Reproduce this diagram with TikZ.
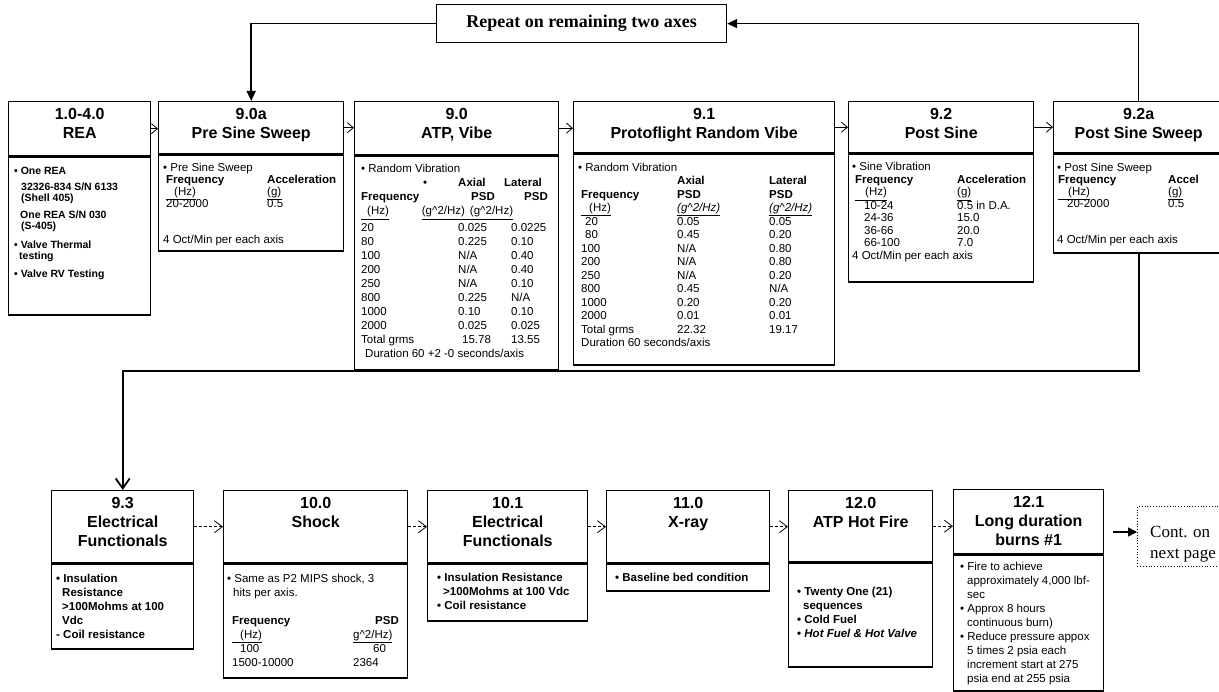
\documentclass[tikz,border=0pt]{standalone}
\usepackage{fontspec}
\setmainfont{Liberation Sans}
\newfontfamily\serifr{Liberation Serif}
\usetikzlibrary{arrows.meta,calc}
\setlength\tabcolsep{0pt}
\newcommand\hzu[1]{\underline{\hspace*{#1pt}(Hz)}}
\newcommand\gsq{(g\textasciicircum 2/Hz)}
\newcommand\procbox[7]{%
  \node[hdr, minimum width=#4pt, minimum height=#5pt] (#1h) at (#2,#3) {};
  \node[bdy, minimum width=#4pt, minimum height=#6pt] (#1b) at (#1h.south west) {};
  \node[htext] (#1t) at ([yshift=-7.5pt]#1h.north) {#7};
}
\tikzset{
  boxline/.style={draw, line width=1.4pt},
  hdr/.style={boxline, anchor=north west, inner sep=0pt},
  bdy/.style={boxline, anchor=north west, inner sep=0pt},
  htext/.style={anchor=north, align=center, inner sep=0pt, font=\fontsize{16}{19}\selectfont\bfseries},
  btext/.style={anchor=north west, inner sep=0pt},
  tflow/.style={line width=0.8pt, -{Straight Barb[length=6pt,width=10pt]}},
  bflow/.style={line width=0.8pt, densely dashed, -{Straight Barb[length=8pt,width=12pt]}},
  loopln/.style={line width=1.8pt},
  repln/.style={line width=1.5pt},
}
\begin{document}
\begin{tikzpicture}[x=1pt,y=-1pt]
\useasboundingbox (0,0) rectangle (1219,692);
\fill[white] (0,0) rectangle (1219,692);
\clip (0,0) rectangle (1219,692);

% ---------- top row ----------
\procbox{rea}{8}{101}{142}{54}{158}{1.0-4.0\\REA}
\procbox{psa}{158}{101}{185}{52}{96}{9.0a\\Pre Sine Sweep}
\procbox{atp}{354}{101}{204}{53}{214}{9.0\\ATP, Vibe}
\procbox{pfr}{573}{101}{261}{51}{211}{9.1\\Protoflight Random Vibe}
\procbox{pos}{848}{101}{185}{51}{128}{9.2\\Post Sine}
\procbox{pss}{1053}{101}{170}{51}{99}{9.2a\\Post Sine Sweep}

% REA body
\node[btext, font=\fontsize{10.5}{11}\selectfont\bfseries] (reax) at (14,167) {%
\begin{tabular}{@{}l@{}}
\textbullet\ One REA\\[5pt]
\hspace*{7pt}32326-834 S/N 6133\\
\hspace*{7pt}(Shell 405)\\[6pt]
\hspace*{6pt}One REA S/N 030\\
\hspace*{7pt}(S-405)\\[8pt]
\textbullet\ Valve Thermal\\
\hspace*{5pt}testing\\[7pt]
\textbullet\ Valve RV Testing
\end{tabular}};

% 9.0a body
\node[btext, font=\fontsize{11.5}{11.5}\selectfont] (psax) at (163,163) {%
\begin{tabular}{@{}p{104pt}@{}l@{}}
\multicolumn{2}{@{}l@{}}{\textbullet\ Pre Sine Sweep}\\
\hspace*{3pt}\textbf{Frequency} & \textbf{Acceleration}\\
\hspace*{3pt}\hzu{8} & \underline{(g)}\\
\hspace*{3pt}20-2000 & 0.5\\[24pt]
\multicolumn{2}{@{}l@{}}{4 Oct/Min per each axis}
\end{tabular}};

% 9.0 body
\node[btext, font=\fontsize{11.5}{14}\selectfont] (atpx) at (361,163) {%
\begin{tabular}{@{}p{97pt}@{}p{53pt}@{}l@{}}
\multicolumn{3}{@{}l@{}}{\textbullet\ Random Vibration}\\
\hspace*{62pt}\textbullet & \textbf{Axial} & \hspace*{-7pt}\textbf{Lateral}\\
\textbf{Frequency} & \hspace*{13pt}\textbf{PSD} & \hspace*{13pt}\textbf{PSD}\\
\multicolumn{3}{@{}l@{}}{\hzu{6}\hspace{33pt}\underline{\gsq\hspace{5pt}\gsq}}\\[3pt]
20 & 0.025 & 0.0225\\
80 & 0.225 & 0.10\\
100 & N/A & 0.40\\
200 & N/A & 0.40\\
250 & N/A & 0.10\\
800 & 0.225 & N/A\\
1000 & 0.10 & 0.10\\
2000 & 0.025 & 0.025\\
Total grms & \hspace*{4pt}15.78 & 13.55\\
\multicolumn{3}{@{}l@{}}{\hspace*{4pt}Duration 60 +2 -0 seconds/axis}
\end{tabular}};

% 9.1 body
\node[btext, font=\fontsize{11.5}{13.5}\selectfont] (pfrx) at (578,161.5) {%
\begin{tabular}{@{}p{99pt}@{}p{92pt}@{}l@{}}
\multicolumn{3}{@{}l@{}}{\textbullet\ Random Vibration}\\
 & \textbf{Axial} & \textbf{Lateral}\\
\hspace*{3pt}\textbf{Frequency} & \textbf{PSD} & \textbf{PSD}\\
\hspace*{3pt}\hzu{8} & \underline{\itshape\gsq} & \underline{\itshape\gsq}\\
\hspace*{7pt}20 & 0.05 & 0.05\\
\hspace*{7pt}80 & 0.45 & 0.20\\
\hspace*{3pt}100 & N/A & 0.80\\
\hspace*{3pt}200 & N/A & 0.80\\
\hspace*{3pt}250 & N/A & 0.20\\
\hspace*{3pt}800 & 0.45 & N/A\\
\hspace*{3pt}1000 & 0.20 & 0.20\\
\hspace*{3pt}2000 & 0.01 & 0.01\\
\hspace*{3pt}Total grms & 22.32 & 19.17\\
\multicolumn{3}{@{}l@{}}{\hspace*{3pt}Duration 60 seconds/axis}
\end{tabular}};

% 9.2 body
\node[btext, font=\fontsize{11.5}{12.5}\selectfont] (posx) at (852,162) {%
\begin{tabular}{@{}p{105pt}@{}l@{}}
\multicolumn{2}{@{}l@{}}{\textbullet\ Sine Vibration}\\
\hspace*{3pt}\textbf{Frequency} & \textbf{Acceleration}\\
\hspace*{3pt}\hzu{10} & \underline{(g)}\\
\hspace*{12pt}10-24 & 0.5 in D.A.\\
\hspace*{12pt}24-36 & 15.0\\
\hspace*{12pt}36-66 & 20.0\\
\hspace*{12pt}66-100 & 7.0\\
\multicolumn{2}{@{}l@{}}{4 Oct/Min per each axis}
\end{tabular}};

% 9.2a body
\node[btext, font=\fontsize{11.5}{11.5}\selectfont] (pssx) at (1057,163) {%
\begin{tabular}{@{}p{111pt}@{}l@{}}
\multicolumn{2}{@{}l@{}}{\textbullet\ Post Sine Sweep}\\
\hspace*{1pt}\textbf{Frequency} & \textbf{Accel}\\
\hspace*{1pt}\hzu{10} & \underline{(g)}\\
\hspace*{10pt}20-2000 & 0.5\\[24pt]
\multicolumn{2}{@{}l@{}}{4 Oct/Min per each axis}
\end{tabular}};

% ---------- repeat loop ----------
\node[boxline, line width=1.2pt, minimum width=290pt, minimum height=38pt, anchor=north west,
      font=\serifr\bfseries\fontsize{18}{20}\selectfont] (rep) at (436,4) {Repeat on remaining two axes};
\draw[repln, -{Triangle[length=10pt,width=9pt]}] (pssh.north) |- (rep.east);
\draw[repln, -{Triangle[length=10pt,width=9pt]}] (rep.west) -| (psah.north);

% top arrows
\draw[tflow] (reah.east) -- (reah.east -| psah.west);
\draw[tflow] (psah.east) -- (psah.east -| atph.west);
\draw[tflow] (atph.east) -- (atph.east -| pfrh.west);
\draw[tflow] (pfrh.east) -- (pfrh.east -| posh.west);
\draw[tflow] (posh.east) -- (posh.east -| pssh.west);

% ---------- bottom row ----------
\procbox{efa}{51}{490}{142}{72}{85}{9.3\\Electrical\\Functionals}
\procbox{shk}{223}{490}{184}{72}{114}{10.0\\Shock}
\procbox{efb}{427}{490}{160}{72}{57}{10.1\\Electrical\\Functionals}
\procbox{xry}{606}{490}{163}{72}{27}{11.0\\X-ray}
\procbox{hot}{788}{490}{144}{71}{104}{12.0\\ATP Hot Fire}
\procbox{ldb}{953}{489}{150}{64}{136}{12.1\\Long duration\\burns \#1}

% big loop 9.2a -> 9.3
\coordinate (lp) at (0,371);
\draw[loopln, -{Straight Barb[length=10pt,width=14pt]}] (pssb.south) -- (pssb.south |- lp) -| (efah.north);

% 9.3 body
\node[btext, font=\fontsize{11.5}{14}\selectfont\bfseries] (efax) at (56,572) {%
\begin{tabular}{@{}l@{}}
\textbullet\ Insulation\\
\hspace*{6pt}Resistance\\
\hspace*{6pt}>100Mohms at 100\\
\hspace*{6pt}Vdc\\
- Coil resistance
\end{tabular}};

% 10.0 body
\node[btext, font=\fontsize{11.5}{14}\selectfont] (shkx) at (227,572) {%
\begin{tabular}{@{}p{126pt}@{}l@{}}
\multicolumn{2}{@{}l@{}}{\textbullet\ Same as P2 MIPS shock, 3}\\
\multicolumn{2}{@{}l@{}}{\hspace*{6pt}hits per axis.}\\
 & \\
\hspace*{5pt}\textbf{Frequency} & \hspace*{22pt}\textbf{PSD}\\
\hspace*{5pt}\hzu{8} & \underline{g\textasciicircum 2/Hz)}\\
\hspace*{13pt}100 & \hspace*{20pt}60\\
\hspace*{5pt}1500-10000 & 2364
\end{tabular}};

% 10.1 body
\node[btext, font=\fontsize{11.5}{14}\selectfont\bfseries] (efbx) at (437,571) {%
\begin{tabular}{@{}l@{}}
\textbullet\ Insulation Resistance\\
\hspace*{6pt}>100Mohms at 100 Vdc\\
\textbullet\ Coil resistance
\end{tabular}};

% 11.0 body
\node[btext, font=\fontsize{11.5}{14}\selectfont\bfseries] (xryx) at (615,571) {%
\begin{tabular}{@{}l@{}}
\textbullet\ Baseline bed condition
\end{tabular}};

% 12.0 body
\node[btext, font=\fontsize{11.5}{14}\selectfont\bfseries] (hotx) at (797,585) {%
\begin{tabular}{@{}l@{}}
\textbullet\ Twenty One (21)\\
\hspace*{6pt}sequences\\
\textbullet\ Cold Fuel\\
\textbullet\ \textit{Hot Fuel \& Hot Valve}
\end{tabular}};

% 12.1 body
\node[btext, font=\fontsize{11.5}{14}\selectfont] (ldbx) at (960,560) {%
\begin{tabular}{@{}l@{}}
\textbullet\ Fire to achieve\\
\hspace*{7pt}approximately 4,000 lbf-\\
\hspace*{7pt}sec\\
\textbullet\ Approx 8 hours\\
\hspace*{7pt}continuous burn)\\
\textbullet\ Reduce pressure appox\\
\hspace*{7pt}5 times 2 psia each\\
\hspace*{7pt}increment start at 275\\
\hspace*{7pt}psia end at 255 psia
\end{tabular}};

% continuation
\node[draw, dotted, line width=0.8pt, minimum width=100pt, minimum height=60pt, anchor=north west] (cont) at (1137,506) {};
\node[anchor=north west, inner sep=0pt, align=left, font=\serifr\fontsize{17}{21}\selectfont] (contt) at (1150,526) {Cont. on\\next page};

% bottom arrows
\draw[bflow] (efah.east) -- (efah.east -| shkh.west);
\draw[bflow] (shkh.east) -- (shkh.east -| efbh.west);
\draw[bflow] (efbh.east) -- (efbh.east -| xryh.west);
\draw[bflow] (xryh.east) -- (xryh.east -| hoth.west);
\draw[bflow] (hoth.east) -- (hoth.east -| ldbh.west);
\coordinate (cs) at (1113,532);
\draw[line width=1.5pt, -{Triangle[length=9pt,width=9pt]}] (cs) -- (cs -| cont.west);
\end{tikzpicture}
\end{document}
